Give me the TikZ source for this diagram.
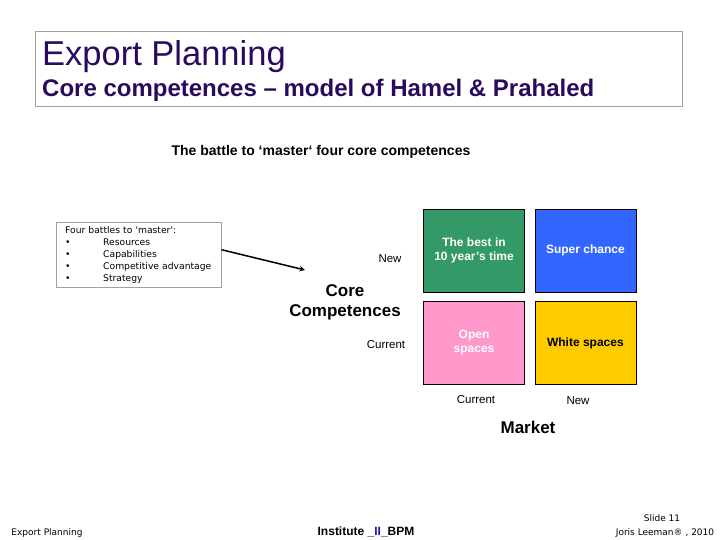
\documentclass[tikz,border=0pt]{standalone}
\usepackage{fontspec}
\setmainfont{Liberation Sans}
\newfontfamily\boxfont{DejaVu Sans}
\usetikzlibrary{positioning,arrows}
\definecolor{titlepurple}{HTML}{2A0A5E}
\definecolor{framegray}{HTML}{A0A0A0}
\definecolor{cellgreen}{HTML}{339966}
\definecolor{cellblue}{HTML}{3366FF}
\definecolor{cellpink}{HTML}{FF99CC}
\definecolor{cellyellow}{HTML}{FFCC00}
\definecolor{instblue}{HTML}{1A1AA0}
\tikzstyle{cell} = [draw=black, minimum width=101pt, minimum height=83pt, inner sep=0pt, align=center, font=\bfseries\fontsize{12}{14}\selectfont]
\tikzstyle{axis} = [inner sep=0pt, anchor=base, font=\fontsize{11.5}{13}\selectfont]
\tikzstyle{axistitle} = [inner sep=0pt, align=center, font=\bfseries\fontsize{17}{20}\selectfont]
\tikzstyle{footer} = [inner sep=0pt, anchor=base, font=\boxfont\fontsize{9}{10}\selectfont]
\tikzstyle{arrow} = [line width=1.5pt,->,>=stealth]

\begin{document}
\begin{tikzpicture}[x=1pt, y=-1pt]
    \useasboundingbox[fill=white] (0,0) rectangle (720,540);
    % header
    \node[draw=framegray, minimum width=647pt, minimum height=75pt, inner sep=0pt] (header) at (358.5,68.5) {};
    \node[anchor=base west, inner sep=0pt, text=titlepurple, font=\fontsize{34.5}{38}\selectfont] (title) at (42,66) {Export Planning};
    \node[anchor=base west, inner sep=0pt, text=titlepurple, font=\bfseries\fontsize{24}{28}\selectfont] (subtitle) at (42,97) {Core competences -- model of Hamel \& Prahaled};
    \node[anchor=base, inner sep=0pt, font=\bfseries\fontsize{14}{16}\selectfont] (battle) at (321,156) {The battle to ‘master‘ four core competences};

    % list of battles
    \node[draw=framegray, anchor=north west, text width=147pt, minimum height=65pt, inner xsep=9pt, inner ysep=3pt, align=left,
          font=\boxfont\fontsize{9.2}{12}\selectfont] (battles) at (56,222)
        {Four battles to \textquotesingle master\textquotesingle:\\
         \makebox[38pt][l]{•}Resources\\
         \makebox[38pt][l]{•}Capabilities\\
         \makebox[38pt][l]{•}Competitive advantage\\
         \makebox[38pt][l]{•}Strategy};
    \coordinate (target) at (305,270);
    \draw[arrow] ([yshift=5pt]battles.east) -- (target);

    % matrix
    \node[cell, fill=cellgreen, text=white] (best) at (474,250.5) {The best in\\10 year’s time};
    \node[cell, fill=cellblue, text=white, right=10pt of best] (super) {Super chance};
    \node[cell, fill=cellpink, text=white, below=9pt of best] (open) {Open\\spaces};
    \node[cell, fill=cellyellow, text=black, right=10pt of open] (white) {White spaces};

    % axes
    \node[axis] (compnew) at (390,262) {New};
    \node[axistitle] (comp) at (345,302) {Core\\Competences};
    \node[axis] (compcur) at (386,348) {Current};
    \node[axis] (mktcur) at (476,403) {Current};
    \node[axis] (mktnew) at (578,404) {New};
    \node[axistitle, anchor=base] (market) at (528,433) {Market};

    % footer
    \node[footer] (footleft) at (47,535) {Export Planning};
    \node[anchor=base, inner sep=0pt, font=\bfseries\fontsize{12}{14}\selectfont] (institute) at (366,535) {Institute \_\textcolor{instblue}{II}\_BPM};
    \node[footer] (slide) at (662,521) {Slide 11};
    \node[footer] (author) at (665,535) {Joris Leeman® , 2010};
\end{tikzpicture}
\end{document}
